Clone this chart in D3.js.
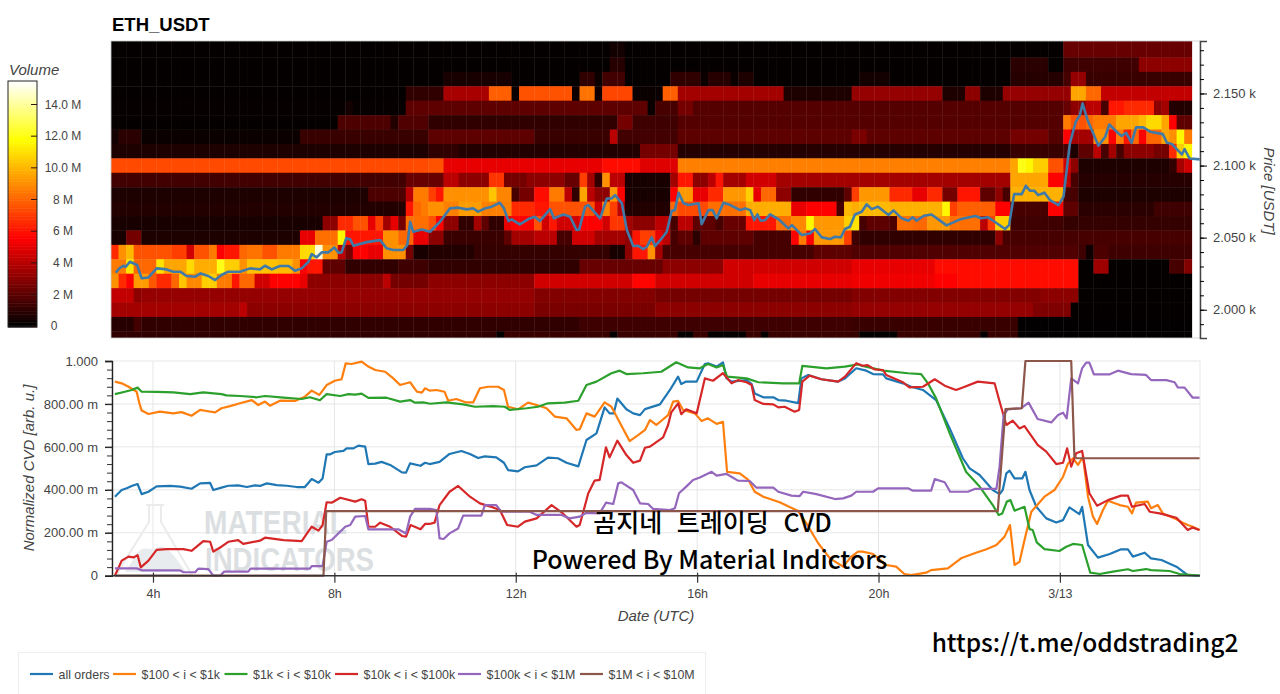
<!DOCTYPE html>
<html>
<head>
<meta charset="utf-8">
<script src="https://cdn.jsdelivr.net/npm/d3@7"></script>
<style>
  html, body { margin: 0; padding: 0; background: #fff; }
  svg { display: block; }
  text { font-family: "Liberation Sans", Arial, sans-serif; fill: #444; }
  .axisTitle { font-style: italic; font-size: 15px; }
  .overlay { font-family: "Noto Sans CJK KR", "Noto Sans", sans-serif; font-weight: 500; fill: #000; }
</style>
</head>
<body>
<svg id="chart" width="1280" height="694"></svg>
<script>
// price levels of the heatmap rows, top to bottom
const priceRows = [2190, 2180, 2170, 2160, 2150, 2140, 2130, 2120, 2110, 2100, 2090, 2080, 2070, 2060, 2050, 2040, 2030, 2020, 2010, 2000, 1990, 1980];

// volume per row in millions, as [first 10 minute bin, volume] until the next pair
const vol2190 = [[0,.1],[126,2.2]];
const vol2180 = [[0,.1],[66,.4],[68,.1],[126,2.2]];
const vol2170 = [[0,.1],[66,.8],[68,.1],[119,.9],[124,.1],[126,1.3],[136,3]];
const vol2160 = [[0,.1],[44,.5],[53,.1],[62,1],[64,.2],[65,1.4],[68,.1],[74,1],[78,.2],[79,.8],[82,.2],[83,.6],[85,.1],[99,.4],[103,.1],[119,.8],[126,1.5],[127,3.2],[129,1.2]];
const vol2150 = [[0,.1],[39,1],[44,3.6],[50,7.8],[53,.2],[54,7.5],[61,.3],[62,8.3],[64,.3],[65,7.2],[69,.2],[73,7.8],[75,3.5],[89,.6],[98,3.2],[110,.6],[113,3],[115,.6],[118,3.2],[127,9.5],[129,8],[131,4.2]];
const vol2140 = [[0,.15],[31,.4],[32,.15],[39,2],[71,.2],[72,1.5],[75,2.5],[77,1.8],[126,2.2],[127,3],[129,4],[131,1.5],[132,6],[134,6.5],[138,3],[139,3.5],[140,.7]];
const vol2130 = [[0,.1],[30,1.6],[37,.7],[38,1.7],[42,1],[67,2.5],[69,1.3],[75,1.8],[126,8.5],[127,7.5],[129,8],[130,8.5],[133,9.5],[136,10],[137,10.8],[139,9.5],[140,5.5],[141,2]];
const vol2120 = [[0,.4],[1,.9],[4,.2],[25,1.2],[42,2],[56,1.2],[66,4],[67,1.4],[75,2],[98,2.6],[100,2],[119,2.5],[124,1.8],[126,5.5],[127,3.5],[130,9],[132,5.5],[133,8.5],[134,6],[135,8],[136,5.5],[137,8],[139,9.5],[140,9],[141,11.5],[142,8.5]];
const vol2110 = [[0,.6],[42,1],[46,.7],[70,2.5],[75,.8],[119,1.2],[126,1.5],[127,.6],[128,2],[130,4],[131,1.5],[132,3.5],[133,1.5],[134,3],[138,2.5],[140,6.5],[141,10.5],[142,11.5]];
const vol2100 = [[0,7.3],[42,7.5],[44,5],[65,5.8],[70,4.8],[75,8.6],[119,9.5],[120,12],[121,11.5],[122,10.5],[124,7.5],[126,4.5],[127,3],[128,.6],[140,1],[141,3.5],[142,4.5]];
const vol2090 = [[0,1.4],[39,2.2],[44,4],[46,3],[50,6.8],[52,2.5],[55,3],[60,2.2],[62,7],[63,3.5],[64,1],[65,9],[66,4],[68,.5],[74,3.5],[75,6],[77,3],[79,4],[80,6],[81,3.5],[84,4.5],[88,3.5],[119,9.5],[124,5.5],[126,4],[127,1.5],[128,.8]];
const vol2080 = [[0,.6],[34,1.6],[39,4],[40,8.5],[42,7],[43,6],[44,9],[50,10.3],[51,8.7],[53,1.5],[54,2.5],[56,5.8],[58,8.5],[60,4],[61,1],[62,9.5],[63,4],[64,3],[66,9.2],[67,5.5],[68,.5],[74,5.5],[75,9.2],[77,5],[79,6.5],[81,9.2],[84,10.5],[85,5],[86,8],[88,3],[90,1],[97,2],[98,7],[99,9.2],[103,6.5],[106,5],[108,6.5],[110,2.5],[112,6],[115,2],[117,3],[118,1.5],[119,9.8],[126,1.5],[128,.6]];
const vol2070 = [[0,.7],[39,6],[40,8],[41,8.5],[42,9],[44,8.6],[46,9.3],[49,8.6],[53,6.5],[56,6],[58,7.5],[64,4.5],[65,8.7],[66,7],[67,4],[68,.7],[74,8],[75,7.3],[79,8.2],[84,9.7],[90,5],[92,5.5],[96,1.5],[97,10],[98,9.7],[99,10],[103,9.8],[110,11.5],[111,7],[112,7.8],[117,5.5],[119,1.5],[124,5.5],[126,2],[128,.9],[138,1.3]];
const vol2060 = [[0,.5],[28,3],[30,6.5],[32,7.5],[34,5],[35,7],[36,3.5],[37,5],[38,2.5],[39,8.2],[42,7.5],[43,5.5],[44,3],[46,1],[48,3.5],[49,2],[50,1],[52,5],[53,5.5],[56,7.5],[57,4.5],[58,6],[59,4.5],[62,5.5],[65,4.5],[66,6.8],[68,3.5],[69,3],[72,4],[74,1.5],[75,4],[77,2],[80,1.5],[81,2.2],[84,6],[88,8.2],[90,8.8],[92,11.5],[93,9.2],[97,10.5],[98,11],[99,1.5],[100,2],[103,1.6],[104,8.2],[106,8],[108,9.2],[111,8.2],[115,4],[116,7],[117,10.5],[119,1.3],[126,1.1]];
const vol2050 = [[0,.5],[2,2.5],[4,.6],[25,5],[27,8.2],[30,11.5],[31,6],[36,9],[38,8],[40,5],[42,3],[44,1.2],[52,2],[53,3.5],[56,4],[59,1.5],[61,4.5],[64,3.5],[68,3],[69,6],[70,7],[72,5],[73,4],[74,1.5],[75,2],[77,.9],[78,2],[85,1.5],[90,5.5],[91,8.5],[92,5.5],[93,9.2],[97,7],[98,1.3],[99,1],[117,3],[118,1.5]];
const vol2040 = [[0,6.5],[1,9],[2,10],[3,7.5],[8,7],[10,4.5],[11,7.5],[13,8.5],[14,5.5],[15,6],[17,8],[18,8.3],[20,7.5],[22,8.5],[25,10.8],[27,14.8],[28,9],[30,4],[31,2.5],[32,5.5],[34,5],[36,9],[39,2.5],[40,.5],[42,.7],[48,1.1],[66,.5],[68,3],[69,6],[71,9],[72,3.5],[73,1.5],[93,2],[98,1.7],[128,1.3],[129,.3],[130,1.6],[132,1.3]];
const vol2030 = [[0,8.5],[2,11],[3,8],[6,11],[7,9.5],[10,10.8],[11,9.7],[14,12],[15,10.5],[17,9],[18,10.2],[22,10],[24,9],[25,5.5],[26,6],[28,2],[31,1],[38,1.3],[42,1],[62,2.2],[73,3],[81,4.5],[98,5],[109,5.8],[128,.1],[130,3.4],[132,.1],[140,1.5],[142,2.8]];
const vol2020 = [[0,9],[1,6.5],[2,5.5],[3,9.3],[5,7.6],[6,6.5],[8,8],[9,10.3],[10,8.8],[12,10.5],[14,8.5],[16,6],[17,8],[19,4.5],[21,5.5],[25,5],[26,3],[36,4],[37,2.5],[42,3],[56,4.5],[69,5.6],[72,4.5],[85,5],[98,5.2],[109,5.5],[112,5.8],[128,.1]];
const vol2010 = [[0,4.2],[3,3],[4,3.2],[56,2.8],[72,2.5],[98,2.8],[123,3],[128,.1]];
const vol2000 = [[0,3.5],[17,4],[18,3],[56,2.6],[72,3],[98,3.2],[122,2.7],[127,.1]];
const vol1990 = [[0,.8],[3,1.4],[4,1],[62,1.3],[98,1.2],[120,.05]];
const vol1980 = [[0,1],[51,.1],[52,1.2],[66,.1],[67,1.2],[75,.1],[77,1.2],[79,.1],[84,1.2],[86,.1],[87,1.2],[99,.1],[104,1.2],[115,.1],[116,1.2],[120,.05]];

const volumeRows = [vol2190, vol2180, vol2170, vol2160, vol2150, vol2140, vol2130, vol2120, vol2110, vol2100, vol2090, vol2080, vol2070, vol2060, vol2050, vol2040, vol2030, vol2020, vol2010, vol2000, vol1990, vol1980];

// price line, [hour, USDT]; hours run past 24 into 3/13
const priceLine = [[3.18,2025.7],[3.27,2029.1],[3.35,2030.5],[3.4,2029.8],[3.49,2033.3],[3.65,2031],[3.75,2021.8],[3.9,2022.4],[4.08,2028.7],[4.26,2028.2],[4.45,2026.4],[4.6,2026.4],[4.74,2023.4],[4.93,2022.9],[5.05,2025.2],[5.22,2023.4],[5.37,2020.6],[5.51,2024.1],[5.66,2026.4],[5.92,2026.4],[6.14,2028.7],[6.36,2028],[6.47,2030.5],[6.62,2028],[6.8,2030.3],[6.99,2030.3],[7.13,2027.1],[7.28,2028.7],[7.43,2033.3],[7.5,2038.6],[7.61,2036.3],[7.72,2039.8],[7.87,2039.8],[8,2043.2],[8.09,2039.6],[8.16,2039.8],[8.26,2049.5],[8.35,2048.8],[8.42,2044.4],[8.71,2046.9],[9.01,2048.3],[9.15,2042.6],[9.3,2041.4],[9.52,2041.4],[9.61,2044.9],[9.67,2061],[9.74,2054.1],[9.93,2055.7],[10.11,2054.1],[10.33,2061],[10.55,2070.3],[10.73,2070.8],[10.92,2069.6],[11.06,2070.3],[11.17,2068],[11.32,2070.3],[11.47,2071.5],[11.65,2074.2],[11.74,2070.3],[11.84,2061.5],[11.91,2062.7],[12.09,2059.2],[12.28,2062.9],[12.42,2064.5],[12.53,2061.5],[12.76,2069.8],[12.84,2063.4],[13.05,2066.1],[13.2,2064.5],[13.34,2055.3],[13.4,2055.7],[13.53,2071.5],[13.6,2072.6],[13.86,2063.4],[14.01,2077.2],[14.11,2077.2],[14.19,2079.5],[14.34,2073.8],[14.45,2055.3],[14.59,2044.2],[14.7,2044.4],[14.81,2042.1],[14.89,2043.7],[15,2050.2],[15.07,2044.2],[15.22,2049.5],[15.33,2054.1],[15.44,2068.7],[15.51,2069.1],[15.59,2081.2],[15.7,2073.8],[15.81,2072.6],[16.03,2073.8],[16.1,2059.4],[16.25,2069.1],[16.34,2069.1],[16.43,2063.4],[16.58,2074.2],[16.73,2072.6],[16.95,2069.1],[17.06,2070.3],[17.17,2069.1],[17.26,2062.2],[17.33,2066.1],[17.4,2061.7],[17.5,2062.2],[17.61,2066.1],[17.79,2062.9],[18.01,2056.4],[18.09,2058.7],[18.31,2051.8],[18.49,2052.9],[18.6,2056],[18.75,2050.2],[18.93,2049],[19.04,2050.6],[19.17,2050.2],[19.26,2056],[19.37,2057.6],[19.48,2066.1],[19.63,2068],[19.74,2073.1],[19.85,2069.8],[19.99,2071.5],[20.22,2065.7],[20.33,2068.9],[20.51,2063.4],[20.66,2061.7],[20.75,2064.1],[20.84,2061.7],[21,2065.2],[21.17,2066.1],[21.5,2058.5],[21.8,2062.7],[22.13,2065],[22.27,2063.4],[22.42,2064.1],[22.53,2061.7],[22.79,2056],[22.88,2058.7],[22.99,2080.2],[23.16,2080.2],[23.25,2086],[23.34,2082.5],[23.44,2082.5],[23.52,2079.5],[23.66,2081.2],[23.78,2076.1],[23.97,2072.6],[24.08,2078.4],[24.22,2115.4],[24.35,2130.4],[24.44,2135],[24.5,2143.1],[24.61,2131.6],[24.85,2113.8],[25,2120],[25.09,2128.5],[25.25,2123.5],[25.36,2120.5],[25.46,2122.8],[25.58,2115.8],[25.68,2126.5],[25.84,2126.5],[25.99,2123.5],[26.27,2121.8],[26.36,2115.8],[26.47,2114.9],[26.69,2107.7],[26.75,2111.4],[26.86,2104.9],[27.09,2104.3]];

// normalized CVD, [hour, value]
const allOrders = [[3.16,.368],[3.31,.399],[3.42,.407],[3.53,.418],[3.66,.427],[3.75,.38],[3.9,.391],[4.08,.416],[4.38,.418],[4.6,.415],[4.85,.405],[5.04,.43],[5.26,.432],[5.33,.399],[5.51,.41],[5.66,.419],[5.88,.421],[6.07,.413],[6.25,.421],[6.36,.418],[6.51,.43],[6.73,.422],[6.95,.419],[7.17,.413],[7.35,.413],[7.5,.45],[7.65,.433],[7.74,.453],[7.83,.565],[7.9,.565],[8.01,.576],[8.2,.581],[8.27,.593],[8.42,.593],[8.53,.606],[8.68,.601],[8.75,.52],[8.9,.522],[9.04,.53],[9.23,.516],[9.49,.481],[9.58,.48],[9.67,.523],[9.9,.512],[10,.526],[10.1,.52],[10.32,.53],[10.54,.567],[10.8,.581],[10.99,.567],[11.17,.548],[11.32,.556],[11.57,.551],[11.74,.526],[11.83,.492],[12.05,.486],[12.2,.505],[12.46,.514],[12.71,.55],[12.93,.547],[13.12,.526],[13.38,.509],[13.56,.632],[13.78,.663],[13.96,.784],[14.07,.756],[14.16,.756],[14.24,.825],[14.44,.775],[14.59,.756],[14.74,.748],[14.85,.776],[15.18,.798],[15.4,.865],[15.58,.927],[15.65,.893],[15.76,.904],[15.99,.904],[16.17,.986],[16.24,.989],[16.43,.974],[16.57,.994],[16.65,.919],[16.76,.904],[17.09,.911],[17.2,.893],[17.27,.849],[17.46,.831],[17.68,.831],[17.79,.818],[17.97,.815],[18.23,.804],[18.3,.919],[18.45,.935],[18.74,.915],[19.11,.904],[19.26,.919],[19.51,.966],[19.73,.955],[19.88,.939],[20.1,.938],[20.17,.919],[20.54,.896],[20.72,.88],[20.98,.865],[21.27,.818],[21.57,.686],[21.86,.547],[22.01,.5],[22.23,.469],[22.52,.399],[22.67,.38],[22.74,.399],[22.82,.477],[22.89,.489],[23,.453],[23.17,.453],[23.24,.484],[23.33,.399],[23.48,.321],[23.7,.267],[23.92,.248],[24.07,.259],[24.21,.318],[24.43,.287],[24.49,.321],[24.62,.143],[24.84,.084],[25.1,.101],[25.35,.123],[25.5,.123],[25.61,.089],[25.87,.107],[26.01,.081],[26.24,.073],[26.57,.042],[26.82,.003],[27.08,0]];
const usd100to1k = [[3.16,.904],[3.31,.896],[3.46,.88],[3.64,.857],[3.7,.803],[3.75,.769],[3.9,.753],[4.15,.764],[4.45,.756],[4.63,.762],[4.85,.745],[5.04,.772],[5.18,.767],[5.37,.761],[5.51,.78],[5.7,.79],[5.92,.803],[6.18,.818],[6.32,.795],[6.47,.811],[6.58,.792],[6.8,.815],[7.13,.814],[7.35,.834],[7.5,.862],[7.67,.842],[7.83,.888],[8.01,.908],[8.16,.915],[8.25,.989],[8.38,.986],[8.6,.997],[8.75,.974],[8.9,.958],[9.12,.95],[9.3,.919],[9.45,.888],[9.67,.901],[9.82,.857],[9.93,.853],[10,.873],[10.1,.862],[10.25,.865],[10.43,.857],[10.51,.815],[10.69,.823],[10.91,.807],[11.06,.807],[11.21,.873],[11.39,.88],[11.61,.88],[11.74,.865],[11.83,.787],[12.05,.775],[12.27,.806],[12.46,.795],[12.68,.78],[12.86,.741],[13.12,.733],[13.34,.679],[13.41,.682],[13.56,.756],[13.74,.741],[13.96,.807],[14.11,.787],[14.51,.627],[14.7,.655],[14.85,.679],[14.96,.725],[15.1,.702],[15.36,.748],[15.47,.811],[15.58,.814],[15.69,.772],[15.95,.756],[16.1,.72],[16.24,.733],[16.43,.707],[16.57,.717],[16.66,.484],[16.94,.477],[17.13,.446],[17.27,.391],[17.46,.368],[17.82,.342],[18.23,.301],[18.41,.244],[18.67,.151],[18.93,.081],[19.22,.042],[19.4,.089],[19.55,.112],[19.65,.112],[19.88,.101],[20.17,.05],[20.39,.042],[20.57,.008],[20.72,.003],[21.05,.014],[21.16,.026],[21.53,.034],[21.82,.081],[22.15,.107],[22.38,.123],[22.6,.143],[22.78,.182],[22.9,.236],[23,.05],[23.11,.065],[23.22,.166],[23.37,.298],[23.66,.368],[23.88,.399],[24.07,.461],[24.18,.523],[24.29,.547],[24.4,.516],[24.51,.554],[24.62,.368],[24.73,.275],[24.82,.241],[24.95,.306],[25.06,.349],[25.32,.329],[25.5,.321],[25.59,.29],[25.68,.34],[25.94,.345],[26.01,.314],[26.16,.329],[26.27,.29],[26.53,.267],[26.71,.247],[26.82,.236],[26.93,.228],[27.08,.213]];
const usd1kto10k = [[3.16,.846],[3.38,.857],[3.53,.865],[3.66,.876],[3.75,.857],[4.08,.856],[4.45,.854],[4.82,.846],[5.11,.854],[5.51,.846],[5.62,.84],[5.92,.837],[6.29,.831],[6.47,.837],[6.88,.829],[7.28,.823],[7.46,.831],[7.68,.817],[7.83,.846],[8.13,.837],[8.31,.846],[8.46,.843],[8.6,.848],[8.75,.828],[9.15,.829],[9.45,.811],[9.67,.818],[9.78,.806],[9.96,.807],[10.11,.801],[10.47,.807],[10.84,.798],[11.1,.787],[11.5,.79],[11.76,.787],[11.87,.772],[12.24,.78],[12.49,.787],[12.71,.803],[13.08,.806],[13.38,.815],[13.56,.888],[13.78,.904],[14.11,.943],[14.29,.955],[14.44,.939],[14.81,.943],[15.21,.95],[15.54,.994],[15.8,.97],[16.06,.966],[16.24,.986],[16.43,.97],[16.57,.981],[16.66,.927],[17.09,.919],[17.35,.901],[17.9,.896],[18.25,.896],[18.32,.977],[18.85,.966],[19.26,.974],[19.55,.984],[19.65,.977],[20.1,.955],[20.65,.943],[20.94,.939],[21.09,.896],[21.27,.826],[21.57,.663],[21.93,.484],[22.23,.415],[22.52,.329],[22.65,.283],[22.73,.29],[22.83,.345],[22.91,.352],[23,.303],[23.22,.321],[23.33,.217],[23.4,.213],[23.49,.155],[23.66,.124],[23.99,.115],[24.14,.135],[24.29,.148],[24.49,.143],[24.67,.014],[24.88,.008],[25.17,.019],[25.5,.03],[25.61,.022],[25.9,.031],[26.01,.026],[26.42,.022],[26.64,.008],[27.08,0]];
const usd10kto100k = [[3.16,0],[3.31,.07],[3.46,.089],[3.57,.085],[3.66,.096],[3.73,.039],[3.9,.07],[4.08,.12],[4.3,.124],[4.67,.124],[4.85,.116],[5.11,.161],[5.26,.158],[5.33,.112],[5.51,.135],[5.66,.158],[5.88,.166],[5.99,.148],[6.36,.163],[6.47,.177],[6.88,.166],[7.28,.161],[7.5,.228],[7.65,.21],[7.74,.236],[7.83,.342],[7.94,.34],[8.13,.363],[8.46,.345],[8.6,.356],[8.68,.349],[8.75,.228],[8.9,.228],[9.01,.247],[9.23,.228],[9.49,.185],[9.58,.182],[9.68,.236],[9.9,.216],[10,.241],[10.1,.241],[10.21,.247],[10.32,.329],[10.54,.391],[10.73,.418],[10.99,.368],[11.21,.337],[11.5,.318],[11.65,.306],[11.81,.236],[12.05,.228],[12.2,.252],[12.46,.267],[12.79,.329],[13.04,.29],[13.34,.228],[13.41,.236],[13.6,.384],[13.74,.443],[13.85,.446],[13.99,.598],[14.07,.551],[14.24,.629],[14.44,.562],[14.59,.526],[14.74,.536],[14.85,.596],[14.96,.601],[15.25,.644],[15.36,.702],[15.43,.761],[15.58,.803],[15.65,.752],[15.76,.775],[15.99,.756],[16.17,.919],[16.35,.908],[16.57,.943],[16.76,.896],[16.9,.911],[17.09,.901],[17.2,.888],[17.27,.818],[17.46,.8],[17.68,.798],[17.79,.784],[17.93,.787],[18.15,.764],[18.25,.772],[18.32,.904],[18.48,.932],[18.74,.915],[19.11,.904],[19.26,.927],[19.51,.99],[19.65,.978],[19.76,.981],[19.91,.961],[20.1,.958],[20.17,.935],[20.54,.901],[20.68,.877],[20.98,.88],[21.24,.915],[21.46,.885],[21.71,.865],[21.86,.877],[22.19,.904],[22.56,.896],[22.67,.811],[22.76,.745],[22.82,.702],[22.96,.722],[23.11,.686],[23.22,.697],[23.51,.609],[23.7,.578],[23.92,.52],[24.07,.526],[24.16,.593],[24.25,.508],[24.36,.57],[24.49,.581],[24.65,.384],[24.82,.326],[25.06,.352],[25.35,.373],[25.5,.373],[25.59,.321],[25.87,.334],[25.98,.298],[26.2,.29],[26.57,.27],[26.82,.213],[26.93,.224],[27.08,.213]];
const usd100kto1m = [[3.16,.034],[3.64,.034],[3.75,.025],[4.6,.025],[4.67,.016],[4.93,.016],[5,.033],[5.22,.031],[5.33,0],[5.48,0],[5.57,.019],[6.1,.019],[6.15,.033],[7.46,.033],[7.5,.045],[7.74,.045],[7.83,.158],[7.94,.166],[8.24,.228],[8.35,.236],[8.46,.275],[8.68,.278],[8.75,.216],[9.41,.216],[9.58,.197],[9.67,.275],[9.78,.311],[10.11,.311],[10.25,.306],[10.32,.174],[10.41,.171],[10.54,.197],[10.73,.22],[10.84,.28],[11.24,.28],[11.32,.329],[11.57,.329],[11.68,.298],[12.31,.298],[12.46,.283],[13.01,.283],[13.19,.267],[13.41,.275],[13.56,.293],[13.85,.29],[13.99,.34],[14.15,.334],[14.26,.43],[14.33,.435],[14.59,.399],[14.74,.337],[14.92,.334],[15.03,.311],[15.4,.306],[15.51,.314],[15.6,.384],[15.76,.415],[15.91,.446],[16.06,.457],[16.32,.484],[16.43,.466],[16.65,.474],[16.9,.443],[17.16,.441],[17.31,.41],[17.68,.41],[17.79,.391],[18.08,.373],[18.26,.371],[18.34,.391],[18.63,.38],[19.04,.357],[19.22,.36],[19.4,.373],[19.51,.391],[19.88,.391],[19.99,.407],[20.65,.407],[20.76,.396],[21.16,.396],[21.24,.45],[21.46,.435],[21.58,.391],[21.97,.391],[22.12,.404],[22.6,.404],[22.67,.508],[22.76,.748],[22.85,.775],[23.15,.78],[23.31,.806],[23.51,.73],[23.81,.714],[23.96,.748],[24.07,.759],[24.15,.733],[24.25,.919],[24.4,.896],[24.49,.966],[24.58,.992],[24.65,.992],[24.75,.938],[25.1,.938],[25.28,.955],[25.57,.939],[25.9,.935],[26.01,.911],[26.35,.911],[26.53,.901],[26.6,.877],[26.75,.876],[26.93,.829],[27.08,.829]];
const usd1mto10m = [[3.16,0],[7.76,0],[7.82,.301],[22.63,.301],[22.8,.776],[23.16,.78],[23.24,1],[24.25,1],[24.32,.554],[24.38,.547],[27.08,.547]];

const seriesNames = ["all orders", "$100 < i < $1k", "$1k < i < $10k", "$10k < i < $100k", "$100k < i < $1M", "$1M < i < $10M"];
const seriesValues = [allOrders, usd100to1k, usd1kto10k, usd10kto100k, usd100kto1m, usd1mto10m];
const seriesColors = ["#1f77b4", "#ff7f0e", "#2ca02c", "#d62728", "#9467bd", "#8c564b"];

const hourTicks = [4, 8, 12, 16, 20, 24];
const hourLabels = ["4h", "8h", "12h", "16h", "20h", "3/13"];
const cvdTicks = [0, .2, .4, .6, .8, 1];
const cvdLabels = ["0", "200.00 m", "400.00 m", "600.00 m", "800.00 m", "1.000"];
const priceTicks = [2000, 2050, 2100, 2150];
const priceLabels = ["2.000 k", "2.050 k", "2.100 k", "2.150 k"];
const volumeTicks = [0, 2, 4, 6, 8, 10, 12, 14];
const volumeLabels = ["0", "2 M", "4 M", "6 M", "8 M", "10.0 M", "12.0 M", "14.0 M"];

const binCount = 143;
const firstHour = 3.074, lastHour = 27.09;
const binHours = 1 / 6;

const svg = d3.select("#chart");

const x = d3.scaleLinear().domain([firstHour, lastHour]).range([111, 1200]);
const yPrice = d3.scaleLinear().domain([1980.4, 2186.4]).range([338, 41]);
const yCvd = d3.scaleLinear().domain([0, 1]).range([575.7, 361]);
const yBar = d3.scaleLinear().domain([0, 14]).range([325.7, 104]);
// hot colormap
const color = d3.scaleLinear().domain([0, 1, 5.5, 11.7, 15.4]).range(["#000000", "#300000", "#ff0000", "#ffff00", "#ffffff"]).clamp(true);

svg.append("clipPath").attr("id", "topClip").append("rect")
    .attr("x", 111).attr("y", 41).attr("width", 1089).attr("height", 297);

// ---- heatmap ----
const cells = [];
priceRows.forEach((price, r) => {
    const spans = volumeRows[r];
    spans.forEach((s, k) => {
        const end = k + 1 < spans.length ? spans[k + 1][0] : binCount;
        for (let b = s[0]; b < end; b++) cells.push({bin: b, price: price, volume: s[1]});
    });
});

const heatPlot = svg.append("g").attr("clip-path", "url(#topClip)");
heatPlot.selectAll("rect.cell")
    .data(cells)
    .enter().append("rect")
    .attr("class", "cell")
    .attr("x", d => x(firstHour + d.bin * binHours))
    .attr("y", d => yPrice(d.price + 5))
    .attr("width", d => x(firstHour + (d.bin + 1) * binHours) - x(firstHour + d.bin * binHours) + .4)
    .attr("height", d => yPrice(d.price - 5) - yPrice(d.price + 5) + .4)
    .attr("fill", d => color(d.volume));

const lineHour = d3.line().x(d => x(d[0])).y(d => yPrice(d[1]));
heatPlot.append("path")
    .attr("d", lineHour(priceLine))
    .attr("fill", "none")
    .attr("stroke", "#3f7aa8")
    .attr("stroke-width", 2.6)
    .attr("stroke-linejoin", "round");

svg.append("rect").attr("x", 111).attr("y", 41).attr("width", 1089).attr("height", 297)
    .attr("fill", "none").attr("stroke", "#ccc").attr("stroke-width", .8);

svg.append("text").attr("x", 112).attr("y", 31)
    .attr("font-size", "18.5px").attr("font-weight", "bold").style("fill", "#000")
    .text("ETH_USDT");

// right price axis
const priceAxis = svg.append("g").attr("transform", "translate(1200,0)")
    .call(d3.axisRight(yPrice).tickValues(priceTicks).tickSize(7).tickPadding(6)
        .tickFormat((d, i) => priceLabels[i]));
priceAxis.select(".domain").attr("stroke", "#444").attr("stroke-width", 1.5);
priceAxis.selectAll("text").attr("font-size", "13px").attr("font-family", null);
svg.append("g").attr("transform", "translate(1200,0)")
    .call(d3.axisRight(yPrice).tickValues(d3.range(1990, 2190, 10)).tickSize(4).tickFormat(""))
    .select(".domain").remove();

svg.append("text").attr("class", "axisTitle")
    .attr("transform", "translate(1264,191) rotate(90)")
    .attr("text-anchor", "middle").text("Price [USDT]");

// ---- colorbar ----
const barLevels = d3.range(-.08, 15.45, .1);
svg.selectAll("rect.bar")
    .data(barLevels)
    .enter().append("rect")
    .attr("class", "bar")
    .attr("x", 8).attr("width", 29)
    .attr("y", d => yBar(d + .1))
    .attr("height", d => yBar(d) - yBar(d + .1) + .5)
    .attr("fill", d => color(d));
svg.append("rect").attr("x", 8).attr("y", 81).attr("width", 29).attr("height", 246)
    .attr("fill", "none").attr("stroke", "#222").attr("stroke-width", 1);

const barAxis = svg.append("g").attr("transform", "translate(37,0)")
    .call(d3.axisLeft(yBar).tickValues(volumeTicks).tickSize(6).tickFormat(""));
barAxis.select(".domain").remove();
barAxis.selectAll("line").attr("stroke", "#311");

svg.selectAll("text.barLabel")
    .data(volumeTicks)
    .enter().append("text")
    .attr("class", "barLabel")
    .attr("x", d => d === 0 ? 54 : 63)
    .attr("y", d => yBar(d) + 4.5)
    .attr("text-anchor", "middle")
    .attr("font-size", "12px")
    .text((d, i) => volumeLabels[i]);

svg.append("text").attr("class", "axisTitle").attr("x", 9).attr("y", 75)
    .text("Volume");

// ---- CVD chart ----
svg.append("rect").attr("x", 112).attr("y", 361).attr("width", 1088).attr("height", 214.7)
    .attr("fill", "none").attr("stroke", "#e8e8e8").attr("stroke-width", 1);

svg.selectAll("line.gridY")
    .data(cvdTicks.slice(1, 5))
    .enter().append("line")
    .attr("class", "gridY")
    .attr("x1", 112).attr("x2", 1200)
    .attr("y1", d => yCvd(d)).attr("y2", d => yCvd(d))
    .attr("stroke", "#e6e6e6");

svg.selectAll("line.gridX")
    .data(hourTicks)
    .enter().append("line")
    .attr("class", "gridX")
    .attr("x1", d => x(d)).attr("x2", d => x(d))
    .attr("y1", 361).attr("y2", 575.7)
    .attr("stroke", "#e6e6e6");

// watermark under the lines
const mark = svg.append("g");
mark.append("path")
    .attr("d", "M125 572 L139 551 C146 545 150 552 158 547 C166 545 172 552 186 572 Z")
    .attr("fill", "#e9ecef");
mark.append("path")
    .attr("d", "M146 505 H164 M149 505 V522 L116 575 H192 L161 522 V505")
    .attr("fill", "none").attr("stroke", "#e9ebed").attr("stroke-width", 2);
mark.append("text").attr("x", 204).attr("y", 534)
    .attr("font-size", "34px").attr("font-weight", "bold")
    .attr("textLength", 143).attr("lengthAdjust", "spacingAndGlyphs")
    .style("fill", "#dcdfe2").text("MATERIAL");
mark.append("text").attr("x", 205).attr("y", 571)
    .attr("font-size", "34px").attr("font-weight", "bold")
    .attr("textLength", 169).attr("lengthAdjust", "spacingAndGlyphs")
    .style("fill", "#dcdfe2").text("INDICATORS");

const cvdLine = d3.line().x(d => x(d[0])).y(d => yCvd(d[1]));
svg.selectAll("path.cvd")
    .data(seriesValues)
    .enter().append("path")
    .attr("class", "cvd")
    .attr("d", d => cvdLine(d))
    .attr("fill", "none")
    .attr("stroke", (d, i) => seriesColors[i])
    .attr("stroke-width", 2.2)
    .attr("stroke-linejoin", "round");

const leftAxis = svg.append("g").attr("transform", "translate(112,0)")
    .call(d3.axisLeft(yCvd).tickValues(cvdTicks).tickSize(7).tickPadding(7)
        .tickFormat((d, i) => cvdLabels[i]));
leftAxis.select(".domain").attr("stroke", "#222").attr("stroke-width", 1.4);
leftAxis.selectAll("line").attr("stroke", "#222").attr("stroke-width", 1.4);
leftAxis.selectAll("text").attr("font-size", "13px").attr("font-family", null);
svg.append("g").attr("transform", "translate(112,0)")
    .call(d3.axisLeft(yCvd).tickValues(d3.range(.04, 1, .04)).tickSize(5).tickFormat(""))
    .call(g => g.select(".domain").remove())
    .selectAll("line").attr("stroke", "#333");

const bottomAxis = svg.append("g").attr("transform", "translate(0,575.7)")
    .call(d3.axisBottom(x).tickValues(hourTicks).tickSize(7).tickPadding(6)
        .tickFormat((d, i) => hourLabels[i]));
bottomAxis.select(".domain").attr("stroke", "#333").attr("stroke-width", 1.4).attr("d", "M111.5,0H1200");
bottomAxis.selectAll("line").attr("stroke", "#333").attr("stroke-width", 1.2).attr("y1", -3);
bottomAxis.selectAll("text").attr("font-size", "12.5px").attr("font-family", null);

svg.append("text").attr("class", "axisTitle")
    .attr("transform", "translate(34,468) rotate(-90)")
    .attr("text-anchor", "middle").text("Normalized CVD [arb. u.]");
svg.append("text").attr("class", "axisTitle")
    .attr("x", 656).attr("y", 621)
    .attr("text-anchor", "middle").text("Date (UTC)");

// ---- legend ----
svg.append("rect").attr("x", 18.5).attr("y", 652.5).attr("width", 687).attr("height", 50)
    .attr("fill", "#fff").attr("stroke", "#eee");
const legendStart = [30, 113, 224.5, 335, 458, 580];
const legend = svg.selectAll("g.legend")
    .data(seriesNames)
    .enter().append("g")
    .attr("class", "legend")
    .attr("transform", (d, i) => "translate(" + legendStart[i] + ",674)");
legend.append("line").attr("x1", 0).attr("x2", 23)
    .attr("stroke", (d, i) => seriesColors[i]).attr("stroke-width", 2.2);
legend.append("text").attr("x", 28.5).attr("y", 4.5)
    .attr("font-size", "12.4px").text(d => d);

// ---- overlay captions ----
svg.append("text").attr("class", "overlay").attr("x", 712.5).attr("y", 531.5)
    .attr("text-anchor", "middle").attr("font-size", "25px").attr("word-spacing", "9px").text("곰지네 트레이딩 CVD");
svg.append("text").attr("class", "overlay").attr("x", 709.5).attr("y", 568.5)
    .attr("text-anchor", "middle").attr("font-size", "25px").text("Powered By Material Indictors");
svg.append("text").attr("class", "overlay").attr("x", 1085).attr("y", 652)
    .attr("text-anchor", "middle").attr("font-size", "24.5px").text("https://t.me/oddstrading2");
</script>
</body>
</html>
